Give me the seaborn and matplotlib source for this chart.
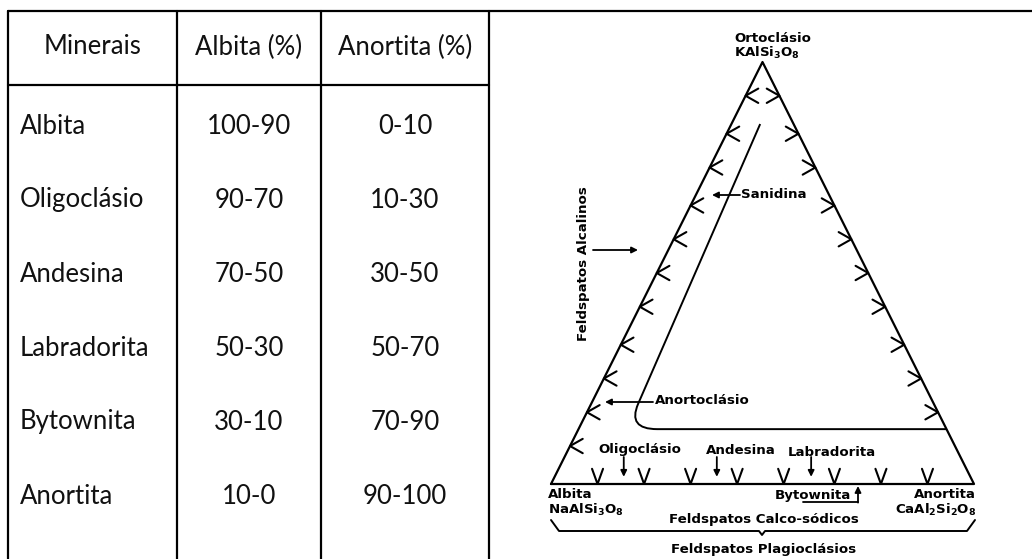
import numpy as np
import matplotlib
matplotlib.use("Agg")
import matplotlib.pyplot as plt
import seaborn as sns
from matplotlib.path import Path
from matplotlib.patches import PathPatch

# --- dados da tabela ---
cabecalho = ["Minerais", "Albita (%)", "Anortita (%)"]
minerais = ["Albita", "Oligoclásio", "Andesina", "Labradorita", "Bytownita", "Anortita"]
albita_pct = ["100-90", "90-70", "70-50", "50-30", "30-10", "10-0"]
anortita_pct = ["0-10", "10-30", "30-50", "50-70", "70-90", "90-100"]

# --- dados do diagrama ternario (fracoes An, Or) ---
marcas_ab_or = [0.92, 0.83, 0.75, 0.66, 0.58, 0.50, 0.42, 0.33, 0.25, 0.17, 0.09]
marcas_or_an = [0.92, 0.83, 0.75, 0.66, 0.58, 0.50, 0.42, 0.33, 0.25, 0.17]
marcas_ab_an = [0.11, 0.22, 0.33, 0.44, 0.55, 0.67, 0.78, 0.89]
setas_plagio = [0.172, 0.392, 0.615]
limite_an = [0.068, 0.111, 0.115, 0.186, 0.870]
limite_or = [0.853, 0.190, 0.130, 0.130, 0.130]


def tern(an, orr):
    an = np.asarray(an, dtype=float)
    orr = np.asarray(orr, dtype=float)
    return an + 0.5 * orr, orr


sns.set_theme(style="white")
plt.rcParams["font.family"] = ["Lato", "DejaVu Sans"]
plt.rcParams["mathtext.fontset"] = "dejavusans"

W, H = 1032, 559
fig = plt.figure(figsize=(W / 100, H / 100), dpi=100)
ax = fig.add_axes([0, 0, 1, 1])
ax.set_xlim(0, W)
ax.set_ylim(H, 0)
ax.axis("off")

# moldura da tabela
lw_tab = 1.6
ax.plot([8, W], [11, 11], color="black", lw=lw_tab)
for xv in [8, 177, 321, 489]:
    ax.plot([xv, xv], [11, H], color="black", lw=lw_tab)
ax.plot([8, 489], [85, 85], color="black", lw=lw_tab)

ft = dict(fontsize=18.5, color="#111111")
col_centros = [92.5, 249, 405]
for c, txt in zip(col_centros, cabecalho):
    ax.text(c, 47, txt, ha="center", va="center", **ft)

linhas_y = [126, 200, 274, 348, 422, 497]
for y, nome, ab, an in zip(linhas_y, minerais, albita_pct, anortita_pct):
    ax.text(20, y, nome, ha="left", va="center", **ft)
    ax.text(col_centros[1], y, ab, ha="center", va="center", **ft)
    ax.text(col_centros[2], y, an, ha="center", va="center", **ft)

# eixo do diagrama ternario
x0, y0, w, h = 551, 484, 423, 422
pad = 0.1
tax = fig.add_axes([(x0 - pad * w) / W, 1 - (y0 + pad * h) / H,
                    w * (1 + 2 * pad) / W, h * (1 + 2 * pad) / H])
tax.set_xlim(-pad, 1 + pad)
tax.set_ylim(-pad, 1 + pad)
tax.axis("off")

lw_d = 1.6
tx, ty = tern([0, 1, 0, 0], [0, 0, 1, 0])
sns.lineplot(x=tx, y=ty, sort=False, estimator=None, color="black", linewidth=lw_d, ax=tax)

for o in marcas_ab_or:
    px, py = tern(0, o)
    tax.plot([px + 0.03, px, px + 0.03], [py + 0.017, py, py - 0.017], color="black", lw=1.5)
for o in marcas_or_an:
    px, py = tern(1 - o, o)
    tax.plot([px - 0.03, px, px - 0.03], [py + 0.017, py, py - 0.017], color="black", lw=1.5)
for a in marcas_ab_an:
    px, py = tern(a, 0)
    tax.plot([px - 0.013, px, px + 0.013], [0.036, 0, 0.036], color="black", lw=1.5)

bx, by = tern(limite_an, limite_or)
caminho = Path(list(zip(bx, by)), [Path.MOVETO, Path.LINETO, Path.CURVE3, Path.CURVE3, Path.LINETO])
tax.add_patch(PathPatch(caminho, fill=False, lw=1.4, edgecolor="black"))

seta = dict(arrowstyle="-|>", color="black", lw=1.3, mutation_scale=9, shrinkA=0, shrinkB=0)
for a in setas_plagio:
    px, _ = tern(a, 0)
    tax.annotate("", xy=(px, 0.017), xytext=(px, 0.064), arrowprops=seta)

# rotulos do diagrama
fb = dict(family="DejaVu Sans", weight="bold", size=9.6, color="black")
ax.text(734, 38, "Ortoclásio", ha="left", va="center", **fb)
ax.text(734, 53, r"KAlSi$_\mathbf{3}$O$_\mathbf{8}$", ha="left", va="center", **fb)
ax.text(741, 195, "Sanidina", ha="left", va="center", **fb)
ax.annotate("", xy=(712, 195), xytext=(740, 195), arrowprops=seta)
ax.text(583, 264, "Feldspatos Alcalinos", ha="center", va="center", rotation=90, **fb)
ax.annotate("", xy=(638, 250), xytext=(593, 250), arrowprops=seta)
ax.text(655, 401, "Anortoclásio", ha="left", va="center", **fb)
ax.annotate("", xy=(605, 402), xytext=(653, 402), arrowprops=seta)
ax.text(640, 450, "Oligoclásio", ha="center", va="center", **fb)
ax.text(741, 450, "Andesina", ha="center", va="center", **fb)
ax.text(832, 452, "Labradorita", ha="center", va="center", **fb)
ax.text(548, 495, "Albita", ha="left", va="center", **fb)
ax.text(548, 510, r"NaAlSi$_\mathbf{3}$O$_\mathbf{8}$", ha="left", va="center", **fb)
ax.text(976, 495, "Anortita", ha="right", va="center", **fb)
ax.text(976, 510, r"CaAl$_\mathbf{2}$Si$_\mathbf{2}$O$_\mathbf{8}$", ha="right", va="center", **fb)
ax.text(775, 495, "Bytownita", ha="left", va="center", **fb)
ax.plot([803, 858], [502, 502], color="black", lw=1.3)
ax.annotate("", xy=(858, 486), xytext=(858, 502.6), arrowprops=seta)
ax.text(764, 520, "Feldspatos Calco-sódicos", ha="center", va="center", **fb)
ax.plot([551, 559, 759, 762, 765, 967, 975], [520, 531, 531, 535, 531, 531, 520], color="black", lw=1.4)
ax.text(764, 549, "Feldspatos Plagioclásios", ha="center", va="center", **fb)

fig.savefig("out.png", dpi=100, facecolor="white")
